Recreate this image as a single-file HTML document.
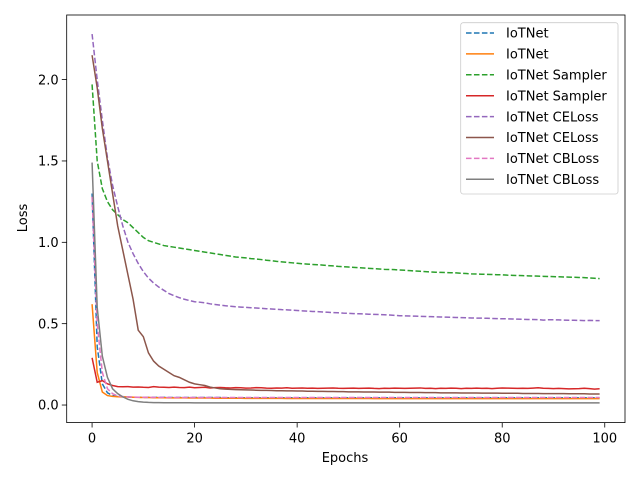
<!DOCTYPE html>
<html><head><meta charset="utf-8"><style>
body{margin:0;background:#fff}
svg{display:block;font-family:"DejaVu Sans","Liberation Sans",sans-serif}
</style></head><body>
<svg id="chart" width="640" height="480" xmlns="http://www.w3.org/2000/svg">
<rect width="640" height="480" fill="#fff"/>
<g id="lines"></g>
<rect x="66.7" y="15" width="558.3" height="407.6" fill="none" stroke="#000" stroke-width="0.8"/>
<g id="xticks"></g>
<g id="yticks"></g>
<text x="345" y="462" font-size="13" text-anchor="middle">Epochs</text>
<text transform="translate(27,218) rotate(-90)" font-size="13" text-anchor="middle">Loss</text>
<g id="legend"></g>
</svg>
<script>
const seriesNames=["IoTNet","IoTNet","IoTNet Sampler","IoTNet Sampler","IoTNet CELoss","IoTNet CELoss","IoTNet CBLoss","IoTNet CBLoss"];
const seriesColors=["#1f77b4","#ff7f0e","#2ca02c","#d62728","#9467bd","#8c564b","#e377c2","#7f7f7f"];
const seriesDashed=[true,false,true,false,true,false,true,false];
const xTicks=[0,20,40,60,80,100];
const yTicks=[0.0,0.5,1.0,1.5,2.0];
const yTickLabels=["0.0","0.5","1.0","1.5","2.0"];
const blueVals=[1.3,0.36,0.13,0.075,0.058,0.052,0.05,0.049,0.048,0.048,0.047,0.047,0.047,0.047,0.047,0.046,0.046,0.046,0.046,0.046,0.046,0.046,0.046,0.046,0.046,0.046,0.045,0.045,0.045,0.045,0.045,0.045,0.045,0.045,0.045,0.045,0.045,0.045,0.045,0.045,0.045,0.045,0.045,0.045,0.045,0.045,0.045,0.045,0.045,0.045,0.045,0.045,0.045,0.045,0.045,0.045,0.045,0.045,0.045,0.045,0.045,0.045,0.045,0.045,0.045,0.045,0.045,0.045,0.045,0.045,0.045,0.045,0.045,0.045,0.045,0.045,0.045,0.045,0.045,0.045,0.045,0.045,0.045,0.045,0.045,0.045,0.045,0.045,0.045,0.045,0.045,0.045,0.045,0.045,0.045,0.045,0.045,0.045,0.045,0.045];
const orangeVals=[0.62,0.2,0.08,0.058,0.053,0.051,0.05,0.049,0.048,0.047,0.046,0.046,0.045,0.045,0.045,0.044,0.044,0.044,0.044,0.043,0.043,0.043,0.043,0.043,0.042,0.042,0.042,0.042,0.042,0.042,0.041,0.041,0.041,0.041,0.041,0.041,0.041,0.041,0.040,0.040,0.040,0.040,0.040,0.040,0.040,0.040,0.040,0.040,0.040,0.040,0.040,0.040,0.040,0.040,0.040,0.039,0.039,0.039,0.039,0.039,0.039,0.039,0.039,0.039,0.039,0.039,0.039,0.039,0.039,0.039,0.039,0.039,0.039,0.039,0.039,0.039,0.039,0.039,0.039,0.039,0.039,0.039,0.039,0.039,0.039,0.039,0.039,0.039,0.039,0.039,0.039,0.039,0.039,0.039,0.039,0.039,0.039,0.039,0.039,0.039];
const greenVals=[1.97,1.5,1.33,1.25,1.2,1.17,1.14,1.12,1.09,1.06,1.03,1.01,1.0,0.99,0.98,0.975,0.97,0.965,0.96,0.955,0.95,0.945,0.94,0.935,0.93,0.925,0.92,0.915,0.91,0.907,0.904,0.9,0.897,0.894,0.89,0.887,0.883,0.88,0.877,0.874,0.871,0.868,0.866,0.864,0.862,0.86,0.857,0.855,0.852,0.85,0.848,0.846,0.844,0.842,0.84,0.838,0.836,0.834,0.833,0.832,0.83,0.828,0.826,0.824,0.822,0.82,0.818,0.816,0.815,0.814,0.813,0.812,0.81,0.808,0.806,0.805,0.804,0.803,0.802,0.801,0.8,0.798,0.797,0.796,0.795,0.794,0.793,0.792,0.791,0.79,0.789,0.788,0.787,0.786,0.785,0.784,0.783,0.781,0.779,0.777];
const redVals=[0.29,0.14,0.15,0.13,0.12,0.113,0.112,0.113,0.11,0.111,0.109,0.108,0.113,0.11,0.109,0.108,0.11,0.108,0.107,0.11,0.106,0.108,0.109,0.105,0.107,0.108,0.106,0.105,0.107,0.106,0.104,0.105,0.107,0.106,0.104,0.103,0.105,0.104,0.106,0.103,0.104,0.105,0.103,0.104,0.102,0.103,0.104,0.105,0.103,0.102,0.103,0.104,0.102,0.103,0.104,0.102,0.101,0.103,0.102,0.104,0.103,0.102,0.103,0.104,0.105,0.102,0.103,0.101,0.103,0.102,0.104,0.103,0.101,0.103,0.102,0.104,0.102,0.103,0.101,0.103,0.105,0.104,0.103,0.102,0.103,0.102,0.104,0.106,0.103,0.102,0.101,0.102,0.101,0.099,0.1,0.101,0.103,0.101,0.098,0.1];
const purpleVals=[2.28,2.0,1.75,1.52,1.35,1.22,1.1,1.0,0.93,0.87,0.82,0.78,0.75,0.725,0.705,0.685,0.672,0.66,0.65,0.642,0.635,0.632,0.628,0.622,0.618,0.614,0.61,0.607,0.604,0.602,0.6,0.598,0.596,0.594,0.592,0.59,0.588,0.586,0.585,0.583,0.581,0.579,0.577,0.575,0.574,0.572,0.57,0.568,0.567,0.565,0.564,0.562,0.561,0.56,0.558,0.557,0.556,0.555,0.553,0.551,0.549,0.548,0.547,0.546,0.545,0.544,0.543,0.542,0.541,0.54,0.539,0.538,0.537,0.536,0.535,0.534,0.534,0.533,0.532,0.531,0.53,0.53,0.529,0.528,0.527,0.526,0.526,0.525,0.522,0.524,0.524,0.523,0.522,0.521,0.521,0.52,0.519,0.52,0.519,0.519];
const brownVals=[2.15,1.95,1.7,1.5,1.3,1.1,0.95,0.8,0.65,0.46,0.42,0.32,0.27,0.24,0.22,0.2,0.18,0.17,0.155,0.14,0.13,0.125,0.12,0.11,0.105,0.1,0.098,0.096,0.095,0.094,0.093,0.092,0.091,0.09,0.09,0.089,0.088,0.088,0.087,0.087,0.086,0.086,0.085,0.085,0.084,0.084,0.083,0.083,0.082,0.082,0.081,0.081,0.081,0.08,0.08,0.08,0.079,0.079,0.079,0.078,0.078,0.078,0.077,0.077,0.077,0.076,0.076,0.076,0.075,0.075,0.075,0.075,0.074,0.074,0.074,0.074,0.073,0.073,0.073,0.073,0.072,0.072,0.072,0.072,0.071,0.071,0.071,0.071,0.07,0.07,0.07,0.07,0.07,0.069,0.069,0.069,0.069,0.068,0.068,0.068];
const pinkVals=[1.28,0.5,0.2,0.1,0.07,0.056,0.052,0.05,0.049,0.048,0.048,0.047,0.047,0.047,0.047,0.046,0.046,0.046,0.046,0.046,0.046,0.046,0.046,0.046,0.046,0.046,0.046,0.046,0.046,0.046,0.046,0.046,0.046,0.046,0.046,0.046,0.046,0.046,0.046,0.046,0.046,0.046,0.046,0.046,0.046,0.046,0.046,0.046,0.046,0.046,0.046,0.046,0.046,0.046,0.046,0.046,0.046,0.046,0.046,0.046,0.046,0.046,0.046,0.046,0.046,0.046,0.046,0.046,0.046,0.046,0.046,0.046,0.046,0.046,0.046,0.046,0.046,0.046,0.046,0.046,0.046,0.046,0.046,0.046,0.046,0.046,0.046,0.046,0.046,0.046,0.046,0.046,0.046,0.046,0.046,0.046,0.046,0.046,0.046,0.046];
const grayVals=[1.49,0.6,0.3,0.17,0.1,0.07,0.05,0.035,0.026,0.021,0.018,0.016,0.015,0.015,0.014,0.014,0.014,0.014,0.014,0.014,0.013,0.013,0.013,0.013,0.013,0.013,0.013,0.013,0.013,0.013,0.013,0.013,0.013,0.013,0.013,0.013,0.013,0.013,0.013,0.013,0.013,0.013,0.013,0.013,0.013,0.013,0.013,0.013,0.013,0.013,0.013,0.013,0.013,0.013,0.013,0.013,0.013,0.013,0.013,0.013,0.013,0.013,0.013,0.013,0.013,0.013,0.013,0.013,0.013,0.013,0.013,0.013,0.013,0.013,0.013,0.013,0.013,0.013,0.013,0.013,0.013,0.013,0.013,0.013,0.013,0.013,0.013,0.013,0.013,0.013,0.013,0.013,0.013,0.013,0.013,0.013,0.013,0.013,0.013,0.013];
const allSeries=[blueVals,orangeVals,greenVals,redVals,purpleVals,brownVals,pinkVals,grayVals];

const NS="http://www.w3.org/2000/svg";
const X0=66.7,X1=625,Y0=422.6,Y1=15;
const xMin=-4.95,xMax=103.95,yMin=-0.108,yMax=2.397;
function sx(v){return X0+(v-xMin)/(xMax-xMin)*(X1-X0);}
function sy(v){return Y0-(v-yMin)/(yMax-yMin)*(Y0-Y1);}

const gl=document.getElementById('lines');
allSeries.forEach((vals,i)=>{
  const p=document.createElementNS(NS,'polyline');
  p.setAttribute('points',vals.map((v,k)=>sx(k).toFixed(2)+','+sy(v).toFixed(2)).join(' '));
  p.setAttribute('fill','none');
  p.setAttribute('stroke',seriesColors[i]);
  p.setAttribute('stroke-width','1.5');
  if(seriesDashed[i]) p.setAttribute('stroke-dasharray','5.55 2.4');
  
  
  gl.appendChild(p);
});

const gx=document.getElementById('xticks');
xTicks.forEach(t=>{
  const l=document.createElementNS(NS,'line');
  l.setAttribute('x1',sx(t));l.setAttribute('x2',sx(t));
  l.setAttribute('y1',Y0);l.setAttribute('y2',Y0+4.9);
  l.setAttribute('stroke','#000');l.setAttribute('stroke-width','0.8');
  
  
  gx.appendChild(l);
  const tx=document.createElementNS(NS,'text');
  tx.setAttribute('x',sx(t));tx.setAttribute('y',Y0+20);
  tx.setAttribute('font-size','13');tx.setAttribute('text-anchor','middle');
  tx.textContent=String(t);
  
  
  gx.appendChild(tx);
});
const gy=document.getElementById('yticks');
yTicks.forEach((t,i)=>{
  const l=document.createElementNS(NS,'line');
  l.setAttribute('x1',X0-4.9);l.setAttribute('x2',X0);
  l.setAttribute('y1',sy(t));l.setAttribute('y2',sy(t));
  l.setAttribute('stroke','#000');l.setAttribute('stroke-width','0.8');
  
  
  gy.appendChild(l);
  const tx=document.createElementNS(NS,'text');
  tx.setAttribute('x',X0-8);tx.setAttribute('y',sy(t)+4.7);
  tx.setAttribute('font-size','13');tx.setAttribute('text-anchor','end');
  tx.textContent=yTickLabels[i];
  
  
  gy.appendChild(tx);
});

const lg=document.getElementById('legend');
const box=document.createElementNS(NS,'rect');
box.setAttribute('x',460.7);box.setAttribute('y',22.7);box.setAttribute('width',157.3);box.setAttribute('height',171.3);
box.setAttribute('rx',2.5);box.setAttribute('fill','#fff');box.setAttribute('fill-opacity','0.8');
box.setAttribute('stroke','#ccc');box.setAttribute('stroke-width','0.8');


lg.appendChild(box);
seriesNames.forEach((n,i)=>{
  const y=33+i*20.9;
  const l=document.createElementNS(NS,'line');
  l.setAttribute('x1',466);l.setAttribute('x2',494);l.setAttribute('y1',y);l.setAttribute('y2',y);
  l.setAttribute('stroke',seriesColors[i]);l.setAttribute('stroke-width','1.5');
  if(seriesDashed[i]) l.setAttribute('stroke-dasharray','5.55 2.4');
  
  
  lg.appendChild(l);
  const t=document.createElementNS(NS,'text');
  t.setAttribute('x',506);t.setAttribute('y',y+4.7);t.setAttribute('font-size','13');
  t.textContent=n;
  
  
  lg.appendChild(t);
});
</script>
</body></html>
